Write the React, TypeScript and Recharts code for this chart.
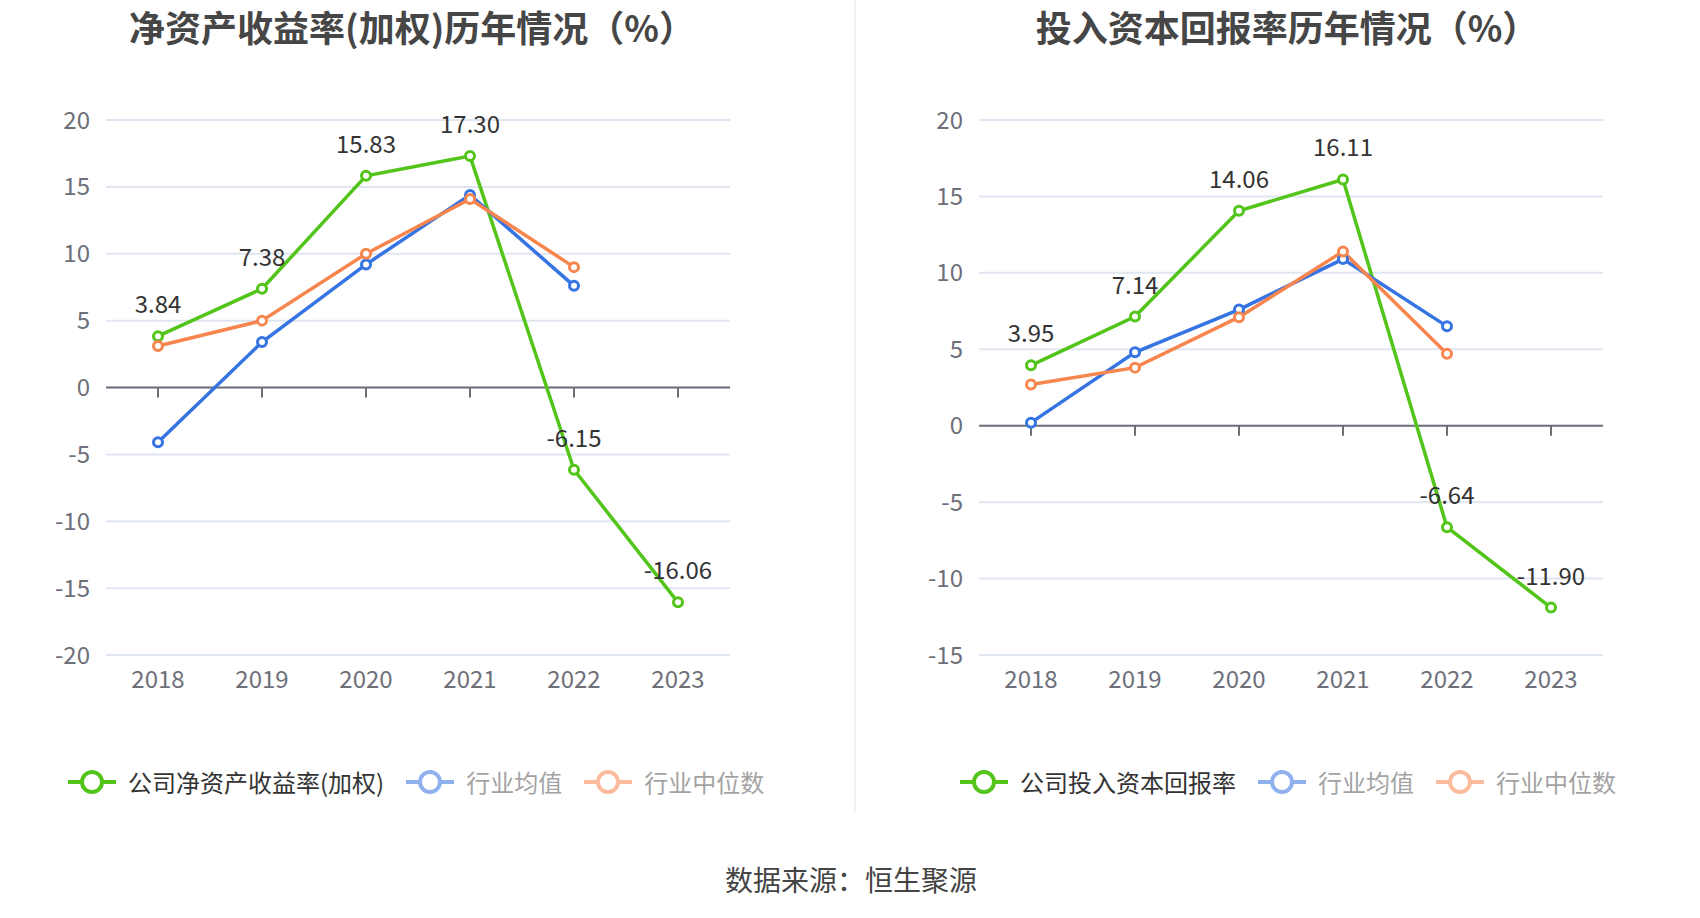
import { CartesianGrid, LabelList, Line, LineChart, ReferenceLine, XAxis, YAxis } from 'recharts';

const years = ['2018', '2019', '2020', '2021', '2022', '2023'];

const roeCompany = [3.84, 7.38, 15.83, 17.3, -6.15, -16.06];
const roeIndustryAvg = [-4.1, 3.4, 9.2, 14.4, 7.6, null];
const roeIndustryMedian = [3.1, 5.0, 10.0, 14.1, 9.0, null];
const roeTicks = [-20, -15, -10, -5, 0, 5, 10, 15, 20];

const roicCompany = [3.95, 7.14, 14.06, 16.11, -6.64, -11.9];
const roicIndustryAvg = [0.2, 4.8, 7.6, 10.9, 6.5, null];
const roicIndustryMedian = [2.7, 3.8, 7.1, 11.4, 4.7, null];
const roicTicks = [-15, -10, -5, 0, 5, 10, 15, 20];

const GREEN = '#52c41a';
const BLUE = '#3574e2';
const ORANGE = '#f7864e';
const FONT = "'Noto Sans CJK SC', 'Noto Sans', sans-serif";

type PanelProps = {
  left: number;
  company: (number | null)[];
  avg: (number | null)[];
  median: (number | null)[];
  ticks: number[];
  tickDrop: number;
};

const ChartPanel = ({ left, company, avg, median, ticks, tickDrop }: PanelProps) => {
  const data = years.map((year, i) => ({
    year,
    company: company[i],
    avg: avg[i],
    median: median[i],
  }));
  const axisText = { fill: '#6e7079', fontSize: 24, fontFamily: FONT };
  const dot = (color: string) => ({ r: 4.5, stroke: color, strokeWidth: 3, fill: '#fff' });

  return (
    <div style={{ position: 'absolute', left, top: 0 }}>
      <LineChart width={824} height={760} data={data} margin={{ top: 120, right: 94, bottom: 75, left: 20 }}>
        <CartesianGrid vertical={false} stroke="#e0e6f1" strokeWidth={2} />
        <XAxis
          dataKey="year"
          height={30}
          padding={{ left: 52, right: 52 }}
          axisLine={false}
          tickLine={false}
          tickSize={8}
          tickMargin={8}
          tick={axisText}
          interval={0}
        />
        <YAxis
          width={86}
          domain={[ticks[0], ticks[ticks.length - 1]]}
          ticks={ticks}
          interval={0}
          axisLine={false}
          tickLine={false}
          tickSize={8}
          tickMargin={8}
          tick={axisText}
        />
        <ReferenceLine y={0} stroke="#6e7079" strokeWidth={2} />
        {years.map((year) => (
          <ReferenceLine
            key={year}
            segment={[{ x: year, y: 0 }, { x: year, y: -tickDrop }]}
            stroke="#6e7079"
            strokeWidth={2}
          />
        ))}
        <Line
          dataKey="company"
          stroke={GREEN}
          strokeWidth={3.5}
          dot={dot(GREEN)}
          activeDot={false}
          isAnimationActive={false}
        >
          <LabelList
            dataKey="company"
            position="top"
            offset={23}
            fill="#333"
            fontSize={24}
            fontFamily={FONT}
            formatter={(v: number) => v.toFixed(2)}
          />
        </Line>
        <Line
          dataKey="avg"
          stroke={BLUE}
          strokeWidth={3.5}
          dot={dot(BLUE)}
          activeDot={false}
          isAnimationActive={false}
        />
        <Line
          dataKey="median"
          stroke={ORANGE}
          strokeWidth={3.5}
          dot={dot(ORANGE)}
          activeDot={false}
          isAnimationActive={false}
        />
      </LineChart>
    </div>
  );
};

const LegendIcon = ({ color, faded }: { color: string; faded?: boolean }) => (
  <svg width={48} height={26} style={{ opacity: faded ? 0.55 : 1, flex: 'none' }}>
    <line x1={0} y1={13} x2={48} y2={13} stroke={color} strokeWidth={4} />
    <circle cx={24} cy={13} r={10} fill="#fff" stroke={color} strokeWidth={4} />
  </svg>
);

const LegendRow = ({ left, names }: { left: number; names: string[] }) => {
  const colors = [GREEN, BLUE, ORANGE];
  return (
    <div
      style={{
        position: 'absolute',
        left,
        top: 764,
        display: 'flex',
        alignItems: 'center',
        fontFamily: FONT,
        fontSize: 24,
        whiteSpace: 'nowrap',
      }}
    >
      {names.map((name, i) => (
        <div key={name} style={{ display: 'flex', alignItems: 'center', marginRight: 22 }}>
          <LegendIcon color={colors[i]} faded={i > 0} />
          <span style={{ marginLeft: 12, color: i === 0 ? '#333' : '#a3a3a3' }}>{name}</span>
        </div>
      ))}
    </div>
  );
};

const titleStyle = {
  position: 'absolute' as const,
  top: 0,
  transform: 'translateX(-50%)',
  fontFamily: FONT,
  fontSize: 36,
  fontWeight: 700,
  color: '#464646',
  whiteSpace: 'nowrap' as const,
};

export default function App() {
  return (
    <div
      style={{
        position: 'absolute',
        left: 0,
        top: 0,
        width: 1700,
        height: 918,
        overflow: 'hidden',
        background: '#fff',
        fontFamily: FONT,
      }}
    >
      <div style={{ ...titleStyle, left: 412 }}>净资产收益率(加权)历年情况（%）</div>
      <div style={{ ...titleStyle, left: 1287 }}>投入资本回报率历年情况（%）</div>
      <div style={{ position: 'absolute', left: 854, top: 0, width: 2, height: 813, background: '#f2f2f2' }} />
      <ChartPanel
        left={0}
        company={roeCompany}
        avg={roeIndustryAvg}
        median={roeIndustryMedian}
        ticks={roeTicks}
        tickDrop={0.75}
      />
      <ChartPanel
        left={873}
        company={roicCompany}
        avg={roicIndustryAvg}
        median={roicIndustryMedian}
        ticks={roicTicks}
        tickDrop={0.66}
      />
      <LegendRow left={68} names={['公司净资产收益率(加权)', '行业均值', '行业中位数']} />
      <LegendRow left={960} names={['公司投入资本回报率', '行业均值', '行业中位数']} />
      <div
        style={{
          position: 'absolute',
          left: 851,
          top: 859,
          transform: 'translateX(-50%)',
          fontSize: 28,
          color: '#444',
          whiteSpace: 'nowrap',
        }}
      >
        数据来源：恒生聚源
      </div>
    </div>
  );
}
